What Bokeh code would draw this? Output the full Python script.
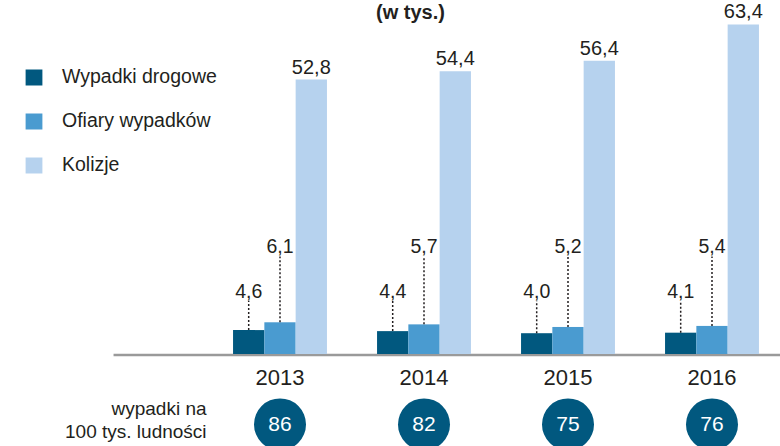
from bokeh.plotting import figure
from bokeh.models import Range1d, Legend, LegendItem, ColumnDataSource
from bokeh.core.properties import value
from bokeh.embed import file_html
from bokeh.resources import INLINE

# ---- data ----
years = ["2013", "2014", "2015", "2016"]
wypadki = [4.6, 4.4, 4.0, 4.1]
ofiary = [6.1, 5.7, 5.2, 5.4]
kolizje = [52.8, 54.4, 56.4, 63.4]
na_100tys = [86, 82, 75, 76]
series_names = ["Wypadki drogowe", "Ofiary wypadków", "Kolizje"]


def fmt(v):
    return ("%.1f" % v).replace(".", ",")


DARK = "#01587F"
MID = "#4A9BD0"
LIGHT = "#B6D2EE"
TXT = "#231F20"
FONT_NAME = "Liberation Sans"
FONT = value(FONT_NAME)

W, H = 780, 446
p = figure(width=W, height=H, output_backend="svg", toolbar_location=None,
           x_axis_type=None, y_axis_type=None, min_border=0,
           x_range=Range1d(-1.941, 3.4757), y_range=Range1d(-17.795, 68.0))
p.outline_line_color = None
p.background_fill_color = "white"
p.border_fill_color = "white"

idx = list(range(len(years)))
bw = 0.2174
x_d = [i - bw for i in idx]
x_m = idx
x_l = [i + bw for i in idx]

src = ColumnDataSource(dict(
    x=idx, xd=x_d, xm=x_m, xl=x_l,
    wyp=wypadki, ofi=ofiary, kol=kolizje,
    wyp_t=[fmt(v) for v in wypadki], ofi_t=[fmt(v) for v in ofiary],
    kol_t=[fmt(v) for v in kolizje],
    years=years, rate=[str(v) for v in na_100tys],
))

# baseline
p.segment(x0=-1.156, x1=3.6, y0=-0.19, y1=-0.19, line_color="#9A9A9A", line_width=2.5)

r1 = p.vbar(x="xd", top="wyp", width=bw, source=src, fill_color=DARK, line_color=None)
r2 = p.vbar(x="xm", top="ofi", width=bw, source=src, fill_color=MID, line_color=None)
r3 = p.vbar(x="xl", top="kol", width=bw, source=src, fill_color=LIGHT, line_color=None)

# dotted leaders
lab_d_y = 12.19
lab_m_y = 20.79
p.segment(x0="xd", x1="xd", y0="wyp", y1=10.25, source=src,
          line_color=TXT, line_width=1.5, line_dash="2 2")
p.segment(x0="xm", x1="xm", y0="ofi", y1=18.76, source=src,
          line_color=TXT, line_width=1.5, line_dash="2 2")

p.text(x="xd", y=lab_d_y, text="wyp_t", source=src, text_align="center",
       text_baseline="middle", text_font=FONT, text_font_size="19.5px", text_color=TXT)
p.text(x="xm", y=lab_m_y, text="ofi_t", source=src, text_align="center",
       text_baseline="middle", text_font=FONT, text_font_size="19.5px", text_color=TXT)
p.text(x="xl", y="kol", text="kol_t", source=src, text_align="center",
       text_baseline="bottom", y_offset=-6, text_font=FONT,
       text_font_size="20px", text_color=TXT)

# years
p.text(x="x", y=-4.45, text="years", source=src, text_align="center",
       text_baseline="middle", text_font=FONT, text_font_size="22px", text_color=TXT)

# rate circles
p.scatter(x="x", y=-13.54, size=52, marker="circle", source=src,
          fill_color=DARK, line_color=None)
p.text(x="x", y=-13.54, text="rate", source=src, text_align="center",
       text_baseline="middle", text_font=FONT, text_font_size="21px", text_color="white")

p.text(x=[-0.51, -0.51], y=[-10.44, -14.89], text=["wypadki na", "100 tys. ludności"],
       text_align="right", text_baseline="middle", text_font=FONT,
       text_font_size="19px", text_color=TXT)

# title fragment
p.text(x=[0.906], y=[68.0], text=["(w tys.)"], text_align="center",
       text_baseline="top", text_font=FONT, text_font_size="20px",
       text_font_style="bold", text_color=TXT)

legend = Legend(items=[LegendItem(label=series_names[0], renderers=[r1]),
                       LegendItem(label=series_names[1], renderers=[r2]),
                       LegendItem(label=series_names[2], renderers=[r3])],
                location=(23, 270), orientation="vertical",
                glyph_width=21, glyph_height=20, label_height=20,
                label_standoff=18, spacing=21, padding=0, margin=0,
                border_line_color=None, background_fill_alpha=0,
                label_text_font=FONT_NAME, label_text_font_size="19.5px",
                label_text_color=TXT)
p.add_layout(legend, "center")

open("out.html", "w").write(file_html(p, INLINE))
